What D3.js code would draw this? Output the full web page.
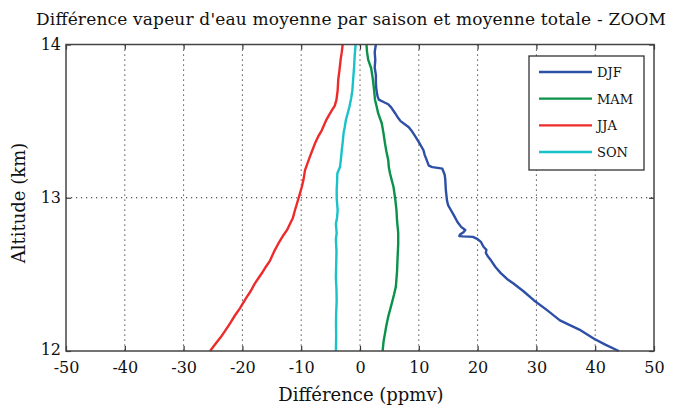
<!DOCTYPE html>
<html><head><meta charset="utf-8">
<script src="https://cdn.jsdelivr.net/npm/d3@7"></script>
<style>body{margin:0;background:#fff}svg{display:block}text{font-family:"DejaVu Serif",serif;fill:#111}</style>
</head><body><svg id="c" width="683" height="407"></svg>
<script>
const seasons = ["DJF","MAM","JJA","SON"];
const colors = ["#2d4fa6","#0a924a","#ee2b2b","#19c2c8"];
const xTicks = [-50,-40,-30,-20,-10,0,10,20,30,40,50];
const yTicks = [12,13,14];
// [altitude km, difference ppmv]
const djf = [[14.0,2.7],[13.95,2.5],[13.9,2.6],[13.85,2.5],[13.8,2.7],[13.75,2.7],[13.7,2.8],[13.66,3.0],[13.64,3.2],[13.625,4.0],[13.61,4.8],[13.59,5.3],[13.55,6.0],[13.52,6.5],[13.5,6.9],[13.46,8.3],[13.43,8.9],[13.4,9.4],[13.37,9.9],[13.35,10.2],[13.31,10.8],[13.28,11.0],[13.25,11.3],[13.21,11.7],[13.2,12.3],[13.195,13.2],[13.19,14.0],[13.15,14.4],[13.12,14.5],[13.05,14.6],[12.98,14.8],[12.95,15.0],[12.93,15.3],[12.89,15.9],[12.84,16.6],[12.81,17.2],[12.79,17.9],[12.775,17.6],[12.76,17.0],[12.75,16.9],[12.748,17.5],[12.745,19.2],[12.73,20.0],[12.71,20.6],[12.68,21.0],[12.66,21.5],[12.64,21.4],[12.62,21.7],[12.59,22.3],[12.55,23.0],[12.51,23.9],[12.47,25.0],[12.44,26.1],[12.39,27.8],[12.33,29.6],[12.27,31.7],[12.2,34.0],[12.17,35.6],[12.14,37.3],[12.08,39.8],[12.04,41.8],[12.0,44.0]];
const mam = [[14.0,1.1],[13.95,1.2],[13.9,1.4],[13.845,1.9],[13.77,2.2],[13.7,2.4],[13.64,2.55],[13.6,2.8],[13.55,3.1],[13.486,3.7],[13.42,4.0],[13.355,4.25],[13.3,4.5],[13.246,4.8],[13.2,4.9],[13.16,5.1],[13.1,5.5],[13.07,5.7],[12.99,6.0],[12.92,6.2],[12.85,6.3],[12.77,6.5],[12.7,6.5],[12.615,6.4],[12.52,6.3],[12.42,6.1],[12.37,5.8],[12.31,5.4],[12.224,4.8],[12.17,4.5],[12.115,4.25],[12.06,4.0],[12.0,3.85]];
const jja = [[14.0,-2.95],[13.95,-3.1],[13.9,-3.3],[13.83,-3.5],[13.77,-3.7],[13.7,-3.8],[13.64,-4.0],[13.6,-4.3],[13.57,-4.8],[13.51,-5.7],[13.44,-6.5],[13.4,-7.1],[13.355,-7.65],[13.31,-8.1],[13.27,-8.5],[13.18,-9.35],[13.12,-9.6],[13.07,-9.9],[13.03,-10.2],[12.99,-10.5],[12.92,-11.05],[12.87,-11.4],[12.83,-11.9],[12.79,-12.4],[12.757,-13.0],[12.7,-13.9],[12.65,-14.6],[12.59,-15.3],[12.55,-16.0],[12.507,-16.7],[12.44,-17.9],[12.39,-18.6],[12.35,-19.3],[12.28,-20.4],[12.23,-21.3],[12.18,-22.1],[12.14,-22.8],[12.1,-23.5],[12.05,-24.5],[12.0,-25.5]];
const son = [[14.0,-0.74],[13.93,-0.9],[13.855,-1.0],[13.78,-1.15],[13.7,-1.3],[13.65,-1.5],[13.594,-1.8],[13.55,-2.1],[13.507,-2.4],[13.46,-2.6],[13.42,-2.8],[13.36,-2.95],[13.31,-3.1],[13.25,-3.25],[13.2,-3.4],[13.16,-3.85],[13.1,-3.9],[13.05,-3.97],[12.99,-3.95],[12.92,-3.8],[12.87,-3.9],[12.83,-4.1],[12.77,-3.97],[12.73,-4.1],[12.65,-4.0],[12.56,-4.05],[12.48,-4.1],[12.4,-4.0],[12.33,-3.97],[12.25,-4.05],[12.18,-4.08],[12.1,-4.05],[12.0,-4.1]];
const seriesData = [djf, mam, jja, son];

const svg = d3.select("#c");
const L=66, R=654, T=44.5, B=351;
const x = d3.scaleLinear().domain([-50,50]).range([L,R]);
const y = d3.scaleLinear().domain([12,14]).range([B,T]);

// grid
const g = svg.append("g");
g.selectAll(".gx").data(xTicks.slice(1,-1)).join("line")
  .attr("x1",d=>x(d)).attr("x2",d=>x(d)).attr("y1",T).attr("y2",B)
  .attr("stroke","#222").attr("stroke-width",1).attr("stroke-dasharray","1.2,3.8");
g.selectAll(".gy").data(yTicks.slice(1,-1)).join("line")
  .attr("y1",d=>y(d)).attr("y2",d=>y(d)).attr("x1",L).attr("x2",R)
  .attr("stroke","#222").attr("stroke-width",1).attr("stroke-dasharray","1.2,3.8");

// lines
const line = d3.line().x(d=>x(d[1])).y(d=>y(d[0]));
svg.append("g").selectAll("path").data(seriesData).join("path")
  .attr("d",line).attr("fill","none").attr("stroke",(d,i)=>colors[i])
  .attr("stroke-width",2.4).attr("stroke-linejoin","round");

// axes
const fmt = d => String(d); // plain hyphen-minus like the reference
const axB = d3.axisBottom(x).tickValues(xTicks).tickSize(-5).tickPadding(11).tickFormat(fmt);
const axT = d3.axisTop(x).tickValues(xTicks).tickSize(-5).tickFormat("");
const axL = d3.axisLeft(y).tickValues(yTicks).tickSize(-5).tickPadding(5).tickFormat(fmt);
const axR = d3.axisRight(y).tickValues(yTicks).tickSize(-5).tickFormat("");
function style(sel){sel.selectAll(".domain").remove();sel.selectAll("line").attr("stroke","#333").attr("stroke-width",1.2);sel.selectAll("text").attr("font-size",16).attr("font-family","DejaVu Serif").attr("fill","#111");}
svg.append("g").attr("transform",`translate(0,${B})`).call(axB).call(style);
svg.append("g").attr("transform",`translate(0,${T})`).call(axT).call(style);
const gl = svg.append("g").attr("transform",`translate(${L},0)`).call(axL).call(style);
gl.selectAll(".tick text").filter(d=>d===12).attr("dy","0.2em");
svg.append("g").attr("transform",`translate(${R},0)`).call(axR).call(style);
svg.append("rect").attr("x",L).attr("y",T).attr("width",R-L).attr("height",B-T)
  .attr("fill","none").attr("stroke","#444").attr("stroke-width",1.5);

// labels
svg.append("text").attr("x",351).attr("y",25).attr("text-anchor","middle").attr("font-size",17)
  .attr("textLength",630).attr("lengthAdjust","spacing")
  .text("Différence vapeur d'eau moyenne par saison et moyenne totale - ZOOM");
svg.append("text").attr("x",361).attr("y",401).attr("text-anchor","middle").attr("font-size",18)
  .text("Différence (ppmv)");
svg.append("text").attr("transform","translate(25,203) rotate(-90)").attr("text-anchor","middle").attr("font-size",18)
  .text("Altitude (km)");

// legend
const lg = svg.append("g");
lg.append("rect").attr("x",529).attr("y",56).attr("width",115).attr("height",114)
  .attr("fill","#fff").attr("stroke","#333").attr("stroke-width",1.3);
const ly = d3.scalePoint().domain(seasons).range([72,152]);
lg.selectAll("line").data(seasons).join("line")
  .attr("x1",539).attr("x2",592).attr("y1",d=>ly(d)).attr("y2",d=>ly(d))
  .attr("stroke",(d,i)=>colors[i]).attr("stroke-width",2.4);
lg.selectAll("text").data(seasons).join("text")
  .attr("x",597).attr("y",d=>ly(d)+5).attr("font-size",13).text(d=>d);
</script></body></html>
